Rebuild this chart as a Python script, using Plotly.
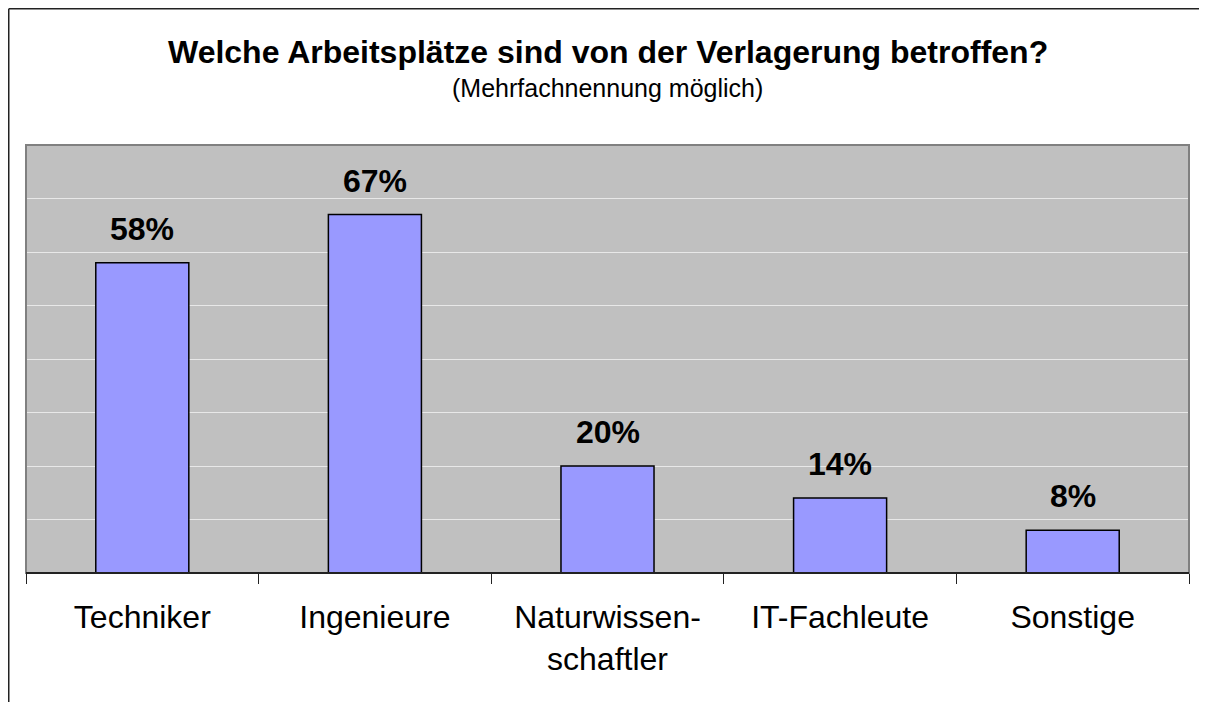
import plotly.graph_objects as go

categories = ["Techniker", "Ingenieure", "Naturwissen-<br>schaftler", "IT-Fachleute", "Sonstige"]
values = [58, 67, 20, 14, 8]
value_labels = ["58%", "67%", "20%", "14%", "8%"]
y_ticks = [0, 10, 20, 30, 40, 50, 60, 70, 80]

# page body has an 8px margin; figure coordinates are screen - 8
OFF = 8
W, H = 1207 - OFF, 702 - OFF
ML, MR, MT, MB = 26 - OFF, 18, 145 - OFF, 129
PW = W - ML - MR
PH = H - MT - MB

def px_x(p):
    return (p - OFF - ML) / PW

def px_y(p):
    return (H - MB - (p - OFF)) / PH

font = "Liberation Sans, Arial, sans-serif"

fig = go.Figure()
fig.add_trace(go.Bar(
    x=categories, y=values, width=0.4,
    marker=dict(color="#9999FF", line=dict(color="black", width=1.5)),
    hoverinfo="skip",
))

for c, v, t in zip(categories, values, value_labels):
    fig.add_annotation(x=c, y=v, text=f"<b>{t}</b>", showarrow=False,
                       yanchor="bottom", yshift=14,
                       font=dict(family=font, size=32, color="black"))

fig.add_annotation(xref="paper", yref="paper", x=0.5, y=px_y(52), text="<b>Welche Arbeitsplätze sind von der Verlagerung betroffen?</b>",
                   showarrow=False, font=dict(family=font, size=32, color="black"), xanchor="center", yanchor="middle")
fig.add_annotation(xref="paper", yref="paper", x=0.5, y=px_y(88), text="(Mehrfachnennung möglich)",
                   showarrow=False, font=dict(family=font, size=25, color="black"), xanchor="center", yanchor="middle")

# outer frame (left and top edges)
fig.add_shape(type="line", xref="paper", yref="paper", x0=px_x(8.75), x1=px_x(8.75), y0=px_y(8.75), y1=px_y(720),
              line=dict(color="#222222", width=1.5))
fig.add_shape(type="line", xref="paper", yref="paper", x0=px_x(8.75), x1=px_x(1230), y0=px_y(8.75), y1=px_y(8.75),
              line=dict(color="#222222", width=1.5))
# plot border (gray)
fig.add_shape(type="rect", xref="paper", yref="paper", x0=0, x1=1, y0=0, y1=1,
              line=dict(color="#808080", width=2), layer="above")
fig.add_shape(type="line", xref="paper", yref="paper", x0=0, x1=1, y0=0, y1=0,
              line=dict(color="#222222", width=2), layer="above")

fig.update_layout(
    width=W, height=H,
    margin=dict(l=ML, r=MR, t=MT, b=MB),
    paper_bgcolor="white", plot_bgcolor="#C0C0C0",
    showlegend=False,
    font=dict(family=font, color="black"),
    xaxis=dict(
        tickson="boundaries", ticks="outside", ticklen=10, tickcolor="#222222", tickwidth=1,
        showline=False, showgrid=False,
        tickfont=dict(family=font, size=32, color="black"),
        ticklabelstandoff=22,
    ),
    yaxis=dict(
        range=[0, 80], tickvals=y_ticks, showticklabels=False,
        showgrid=True, gridcolor="#E8E8E8", gridwidth=1,
        zeroline=False, showline=False, ticks="",
    ),
)

fig.write_html("out.html")
